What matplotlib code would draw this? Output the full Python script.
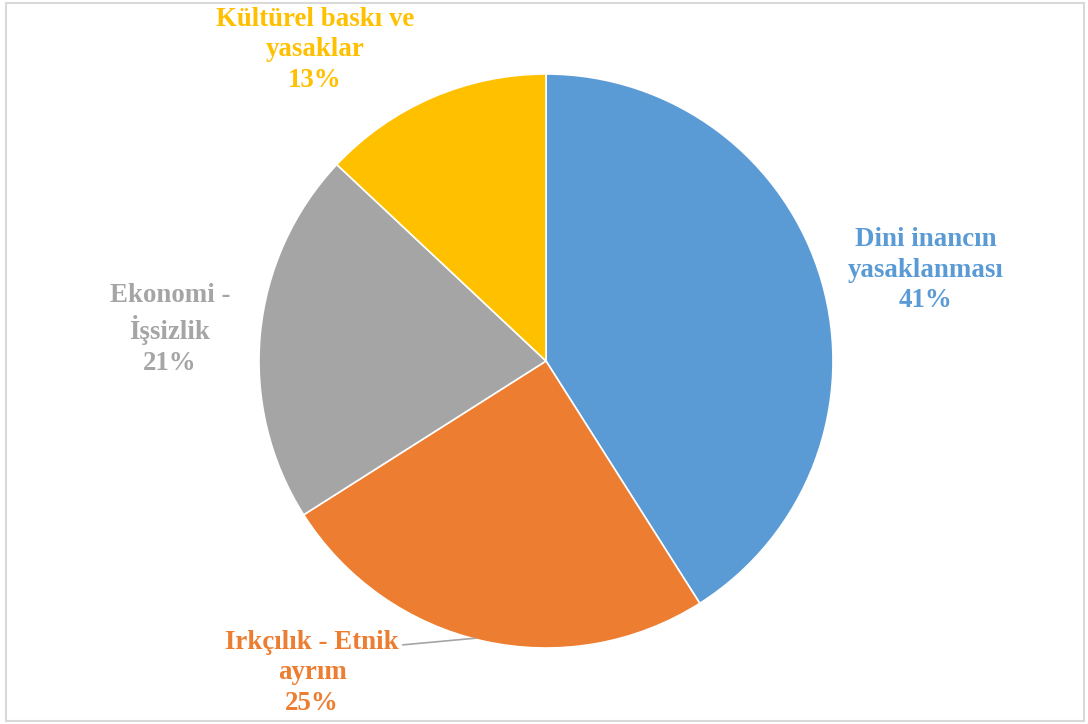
import matplotlib.pyplot as plt
from matplotlib.patches import Rectangle

categories = ["Dini inancın\nyasaklanması", "Irkçılık - Etnik\nayrım", "Ekonomi -\nİşsizlik", "Kültürel baskı ve\nyasaklar"]
shares = [41, 25, 21, 13]
colors = ["#5B9BD5", "#ED7D31", "#A5A5A5", "#FFC000"]

plt.rcParams['font.family'] = ['Liberation Serif', 'DejaVu Serif']

fig = plt.figure(figsize=(10.88, 7.24), dpi=100)
fig.patch.set_facecolor('white')

# chart frame
fig.add_artist(Rectangle((6 / 1088, 3 / 724), 1078 / 1088, 718 / 724, transform=fig.transFigure,
                         fill=False, edgecolor='#D9D9D9', linewidth=1.5))

cx, cy, r = 546, 361, 287
ax = fig.add_axes([(cx - r) / 1088, (724 - cy - r) / 724, 2 * r / 1088, 2 * r / 724])
ax.pie(shares, colors=colors, startangle=90, counterclock=False, radius=1,
       wedgeprops=dict(edgecolor='white', linewidth=1.2))
ax.set_xlim(-1, 1)
ax.set_ylim(-1, 1)
ax.set_aspect('equal')
ax.axis('off')

label_pos = [(1.324, 0.317), (-0.815, -1.087), (-1.31, 0.111), (-0.805, 1.084)]
for cat, val, col, (x, y) in zip(categories, shares, colors, label_pos):
    ax.text(x, y, f"{cat}\n{val}%", ha='center', va='center', color=col,
            fontsize=19.4, fontweight='bold', linespacing=1.3, clip_on=False)

# leader line for the orange slice label
ax.annotate("", xy=(-0.237, -0.965), xytext=(-0.509, -0.99),
            arrowprops=dict(arrowstyle='-', color='#A5A5A5', lw=1.2), annotation_clip=False)

fig.savefig("out.png", dpi=100, facecolor='white')
